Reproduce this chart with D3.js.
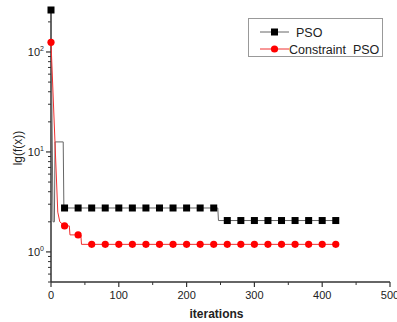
<!DOCTYPE html>
<html>
<head>
<meta charset="utf-8">
<script src="https://cdn.jsdelivr.net/npm/d3@7"></script>
<style>
  body { margin: 0; background: #fff; }
  svg { display: block; font-family: "Liberation Sans", Arial, sans-serif; }
</style>
</head>
<body>
<div id="chart"></div>
<script>
// marker positions (every 20 iterations) and values
const markIter = [0, 20, 40, 60, 80, 100, 120, 140, 160, 180, 200, 220, 240, 260, 280, 300, 320, 340, 360, 380, 400, 420];
const psoMarks = [263, 2.75, 2.75, 2.75, 2.75, 2.75, 2.75, 2.75, 2.75, 2.75, 2.75, 2.75, 2.75, 2.06, 2.06, 2.06, 2.06, 2.06, 2.06, 2.06, 2.06, 2.06];
const cpsoMarks = [125, 1.82, 1.48, 1.19, 1.19, 1.19, 1.19, 1.19, 1.19, 1.19, 1.19, 1.19, 1.19, 1.19, 1.19, 1.19, 1.19, 1.19, 1.19, 1.19, 1.19, 1.19];

// full curves (break points of the traces)
const psoIter = [0, 1, 3, 5, 6, 18, 19, 246, 247, 420];
const psoVals = [263, 47, 2.0, 2.0, 12.6, 12.6, 2.75, 2.75, 2.06, 2.06];
const cpsoIter = [0, 10, 13, 20, 27, 28, 44, 45, 420];
const cpsoVals = [125, 2.5, 2.0, 1.82, 1.82, 1.48, 1.48, 1.19, 1.19];

const xTicks = [0, 100, 200, 300, 400, 500];
const xMinor = [50, 150, 250, 350, 450];
const yMajor = [1, 10, 100];

const width = 397, height = 322;
const margin = { left: 51, top: 10, right: 7, bottom: 40 };

const svg = d3.select('#chart').append('svg')
  .attr('width', width)
  .attr('height', height);

const x = d3.scaleLinear().domain([0, 500]).range([margin.left, 390]);
const y = d3.scaleLog().domain([0.5, 263]).range([282, margin.top]);

// y minor ticks
const yMinor = [];
[0.1, 1, 10, 100].forEach(b => {
  for (let k = 2; k <= 9; k++) {
    const v = b * k;
    if (v >= 0.5 && v <= 263 && !yMajor.includes(v)) yMinor.push(v);
  }
});

const axisColor = '#333';

// y axis
const yAxis = svg.append('g');
yAxis.append('line')
  .attr('x1', x(0)).attr('x2', x(0))
  .attr('y1', y(0.5)).attr('y2', y(263))
  .attr('stroke', axisColor).attr('stroke-width', 1.5);
yAxis.selectAll('.ymin').data(yMinor).join('line')
  .attr('x1', x(0) - 3).attr('x2', x(0))
  .attr('y1', d => y(d)).attr('y2', d => y(d))
  .attr('stroke', axisColor).attr('stroke-width', 1);
yAxis.selectAll('.ymaj').data(yMajor).join('line')
  .attr('x1', x(0) - 5).attr('x2', x(0))
  .attr('y1', d => y(d)).attr('y2', d => y(d))
  .attr('stroke', axisColor).attr('stroke-width', 1.2);
const yLab = yAxis.selectAll('.ylab').data(yMajor).join('text')
  .attr('x', x(0) - 7)
  .attr('y', d => y(d) + 4)
  .attr('text-anchor', 'end')
  .attr('font-size', 11)
  .attr('fill', '#222');
yLab.append('tspan').text('10');
yLab.append('tspan')
  .attr('dy', -5)
  .attr('font-size', 7)
  .text(d => Math.round(Math.log10(d)));

// x axis
const xAxis = svg.append('g');
xAxis.append('line')
  .attr('x1', x(0)).attr('x2', x(500))
  .attr('y1', y(0.5)).attr('y2', y(0.5))
  .attr('stroke', axisColor).attr('stroke-width', 1.5);
xAxis.selectAll('.xmaj').data(xTicks).join('line')
  .attr('x1', d => x(d)).attr('x2', d => x(d))
  .attr('y1', y(0.5)).attr('y2', y(0.5) + 5)
  .attr('stroke', axisColor).attr('stroke-width', 1.2);
xAxis.selectAll('.xmin').data(xMinor).join('line')
  .attr('x1', d => x(d)).attr('x2', d => x(d))
  .attr('y1', y(0.5)).attr('y2', y(0.5) + 3)
  .attr('stroke', axisColor).attr('stroke-width', 1);
xAxis.selectAll('.xlab').data(xTicks).join('text')
  .attr('x', d => x(d))
  .attr('y', y(0.5) + 17)
  .attr('text-anchor', 'middle')
  .attr('font-size', 11)
  .attr('fill', '#222')
  .text(d => d);

// axis titles
svg.append('text')
  .attr('x', x(250) - 4)
  .attr('y', 318)
  .attr('text-anchor', 'middle')
  .attr('font-size', 12)
  .attr('font-weight', 'bold')
  .attr('fill', '#222')
  .text('iterations');
svg.append('text')
  .attr('transform', `translate(22, 148) rotate(-90)`)
  .attr('text-anchor', 'middle')
  .attr('font-size', 12)
  .attr('fill', '#222')
  .text('lg(f(x))');

// curves
const line = d3.line().x(d => x(d[0])).y(d => y(d[1]));
const psoPts = psoIter.map((it, i) => [it, psoVals[i]]);
const cpsoPts = cpsoIter.map((it, i) => [it, cpsoVals[i]]);

svg.append('path')
  .attr('d', line(psoPts))
  .attr('fill', 'none')
  .attr('stroke', '#666')
  .attr('stroke-width', 1);
svg.append('path')
  .attr('d', line(cpsoPts))
  .attr('fill', 'none')
  .attr('stroke', '#f03030')
  .attr('stroke-width', 1);

// markers
svg.selectAll('.sq').data(markIter).join('rect')
  .attr('x', (d) => x(d) - 3.5)
  .attr('y', (d, i) => y(psoMarks[i]) - 3.5)
  .attr('width', 7).attr('height', 7)
  .attr('fill', '#000');
svg.selectAll('.ci').data(markIter).join('circle')
  .attr('cx', d => x(d))
  .attr('cy', (d, i) => y(cpsoMarks[i]))
  .attr('r', 3.6)
  .attr('fill', '#f00');

// legend
const lg = svg.append('g');
lg.append('rect')
  .attr('x', 248.5).attr('y', 18.5)
  .attr('width', 134).attr('height', 38)
  .attr('fill', '#fff')
  .attr('stroke', '#999')
  .attr('stroke-width', 1);
const legendItems = [
  { name: 'PSO', color: '#666', mark: '#000', shape: 'sq', y: 32 },
  { name: 'Constraint  PSO', color: '#f03030', mark: '#f00', shape: 'ci', y: 49 }
];
legendItems.forEach(it => {
  lg.append('line')
    .attr('x1', 260).attr('x2', 289)
    .attr('y1', it.y).attr('y2', it.y)
    .attr('stroke', it.color).attr('stroke-width', 1);
  if (it.shape === 'sq') {
    lg.append('rect').attr('x', 271).attr('y', it.y - 3.5)
      .attr('width', 7).attr('height', 7).attr('fill', it.mark);
  } else {
    lg.append('circle').attr('cx', 274.5).attr('cy', it.y)
      .attr('r', 3.6).attr('fill', it.mark);
  }
  lg.append('text')
    .attr('x', it.shape === 'sq' ? 296 : 289)
    .attr('y', it.y + 4.5)
    .attr('font-size', 12.5)
    .attr('fill', '#222')
    .attr('xml:space', 'preserve')
    .style('white-space', 'pre')
    .text(it.name);
});
</script>
</body>
</html>
